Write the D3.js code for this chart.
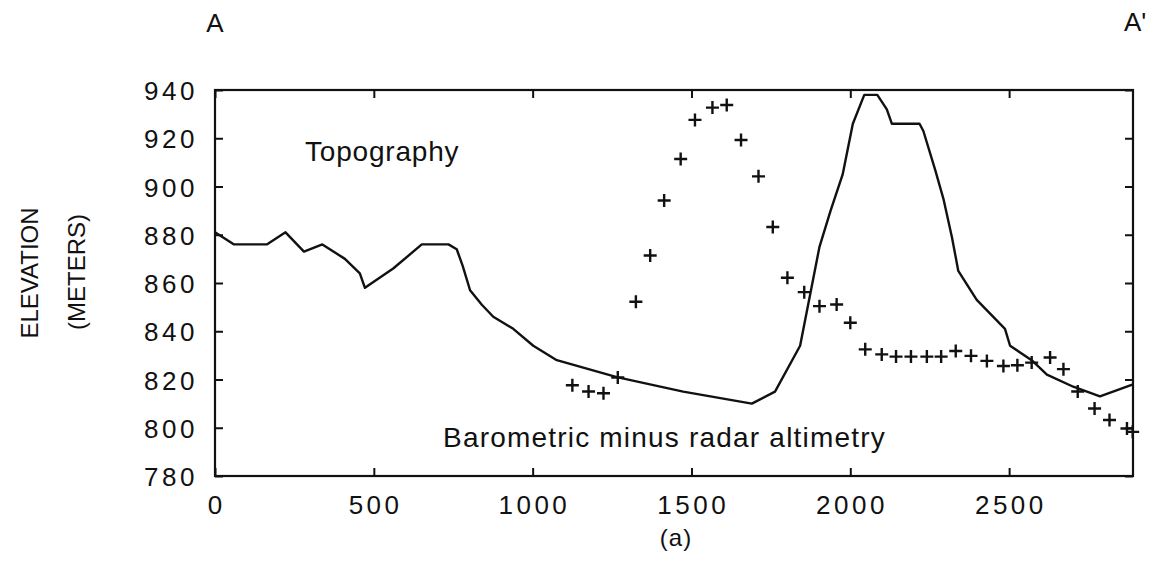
<!DOCTYPE html>
<html>
<head>
<meta charset="utf-8">
<script src="https://cdn.jsdelivr.net/npm/d3@7"></script>
<style>
  html, body { margin: 0; padding: 0; background: #fff; }
  svg { display: block; }
  text { font-family: "Liberation Sans", Arial, sans-serif; fill: #111; }
</style>
</head>
<body>
<svg id="chart" width="1154" height="577"></svg>
<script>
// ---- data ----
const topoX = [0, 60, 163, 222, 280, 338, 409, 456, 472, 561, 651, 735, 761, 780, 803, 840, 876, 939, 1002, 1076, 1265, 1474, 1690, 1763, 1842, 1903, 1938, 1976, 2008, 2044, 2085, 2115, 2131, 2218, 2230, 2267, 2293, 2320, 2340, 2398, 2487, 2503, 2571, 2619, 2702, 2786, 2890];
const topoY = [881, 876, 876, 881, 873, 876, 870, 864, 858, 866, 876, 876, 874, 867, 857, 851, 846, 841, 834, 828, 821, 815, 810, 815, 834, 875, 890, 905, 926, 938, 938, 932, 926, 926, 923, 907, 895, 879, 865, 853, 841, 834, 828, 822, 817, 813, 818];

const baroX = [1125, 1176, 1223, 1268, 1325, 1370, 1414, 1466, 1511, 1566, 1611, 1656, 1711, 1756, 1802, 1855, 1903, 1957, 2000, 2047, 2099, 2144, 2191, 2241, 2286, 2332, 2380, 2430, 2482, 2526, 2571, 2629, 2671, 2716, 2769, 2816, 2871, 2889];
const baroY = [817.6, 815, 814.3, 820.8, 852.2, 871.4, 894.2, 911.4, 927.6, 932.7, 933.8, 919.3, 904.2, 883.2, 862.2, 856.2, 850.4, 851.1, 843.5, 832.5, 830.4, 829.5, 829.5, 829.5, 829.5, 831.8, 829.8, 827.7, 825.6, 825.9, 827, 829.1, 824.3, 815, 808, 803.2, 799.7, 798.3];

const xTicks = [0, 500, 1000, 1500, 2000, 2500];
const yTicks = [780, 800, 820, 840, 860, 880, 900, 920, 940];

// ---- layout ----
const svg = d3.select("#chart");
const L = 215, R = 1133, T = 90, B = 476;
const x = d3.scaleLinear().domain([0, 2890]).range([L, R]);
const y = d3.scaleLinear().domain([780, 940]).range([B, T]);
const tickLen = 8;
const ink = "#111";

// frame
svg.append("rect")
  .attr("x", L).attr("y", T).attr("width", R - L).attr("height", B - T)
  .attr("fill", "none").attr("stroke", ink).attr("stroke-width", 2.2);

const tickFont = 26, tickSpacing = 3.5;

const gB = svg.append("g").attr("transform", `translate(0,${B})`)
  .call(d3.axisTop(x).tickValues(xTicks).tickSize(tickLen).tickFormat(""));
const gT = svg.append("g").attr("transform", `translate(0,${T})`)
  .call(d3.axisBottom(x).tickValues(xTicks).tickSize(tickLen).tickFormat(""));
const gL = svg.append("g").attr("transform", `translate(${L},0)`)
  .call(d3.axisRight(y).tickValues(yTicks).tickSize(tickLen).tickFormat(""));
const gR = svg.append("g").attr("transform", `translate(${R},0)`)
  .call(d3.axisLeft(y).tickValues(yTicks).tickSize(tickLen).tickFormat(""));
[gB, gT, gL, gR].forEach(g => {
  g.select(".domain").remove();
  g.selectAll(".tick line").attr("stroke", ink).attr("stroke-width", 2);
});

// tick labels
svg.append("g").selectAll("text").data(xTicks).join("text")
  .attr("x", d => x(d) + tickSpacing / 2)
  .attr("y", 514)
  .attr("text-anchor", "middle")
  .style("font-size", tickFont + "px")
  .style("letter-spacing", tickSpacing + "px")
  .text(d => d);

svg.append("g").selectAll("text").data(yTicks).join("text")
  .attr("x", 198)
  .attr("y", d => y(d) + 10)
  .attr("text-anchor", "end")
  .style("font-size", tickFont + "px")
  .style("letter-spacing", tickSpacing + "px")
  .text(d => d);

// topography line
const line = d3.line().x(d => x(d[0])).y(d => y(d[1]));
svg.append("path")
  .datum(d3.zip(topoX, topoY))
  .attr("d", line)
  .attr("fill", "none").attr("stroke", ink).attr("stroke-width", 2.4)
  .attr("stroke-linejoin", "round");

// "+" markers
const h = 6.5;
svg.append("g").selectAll("path").data(d3.zip(baroX, baroY)).join("path")
  .attr("d", d => {
    const cx = x(d[0]), cy = y(d[1]);
    return `M${cx - h},${cy}H${cx + h}M${cx},${cy - h}V${cy + h}`;
  })
  .attr("stroke", ink).attr("stroke-width", 2.4).attr("fill", "none");

// annotations
svg.append("text").attr("x", 305).attr("y", 161)
  .style("font-size", "28px").style("letter-spacing", "0.8px")
  .text("Topography");
svg.append("text").attr("x", 443).attr("y", 447)
  .style("font-size", "28px").style("letter-spacing", "1.2px")
  .text("Barometric minus radar altimetry");

// section labels
svg.append("text").attr("x", 215).attr("y", 32).attr("text-anchor", "middle")
  .style("font-size", "26px").text("A");
svg.append("text").attr("x", 1124).attr("y", 31).attr("text-anchor", "start")
  .style("font-size", "26px").text("A'");

// y title
svg.append("text")
  .attr("transform", "translate(38,273) rotate(-90)")
  .attr("text-anchor", "middle")
  .style("font-size", "24px")
  .text("ELEVATION");
svg.append("text")
  .attr("transform", "translate(85,272) rotate(-90)")
  .attr("text-anchor", "middle")
  .style("font-size", "24px")
  .text("(METERS)");

// caption
svg.append("text").attr("x", 676).attr("y", 546).attr("text-anchor", "middle")
  .style("font-size", "24px").style("letter-spacing", "1px")
  .text("(a)");
</script>
</body>
</html>
